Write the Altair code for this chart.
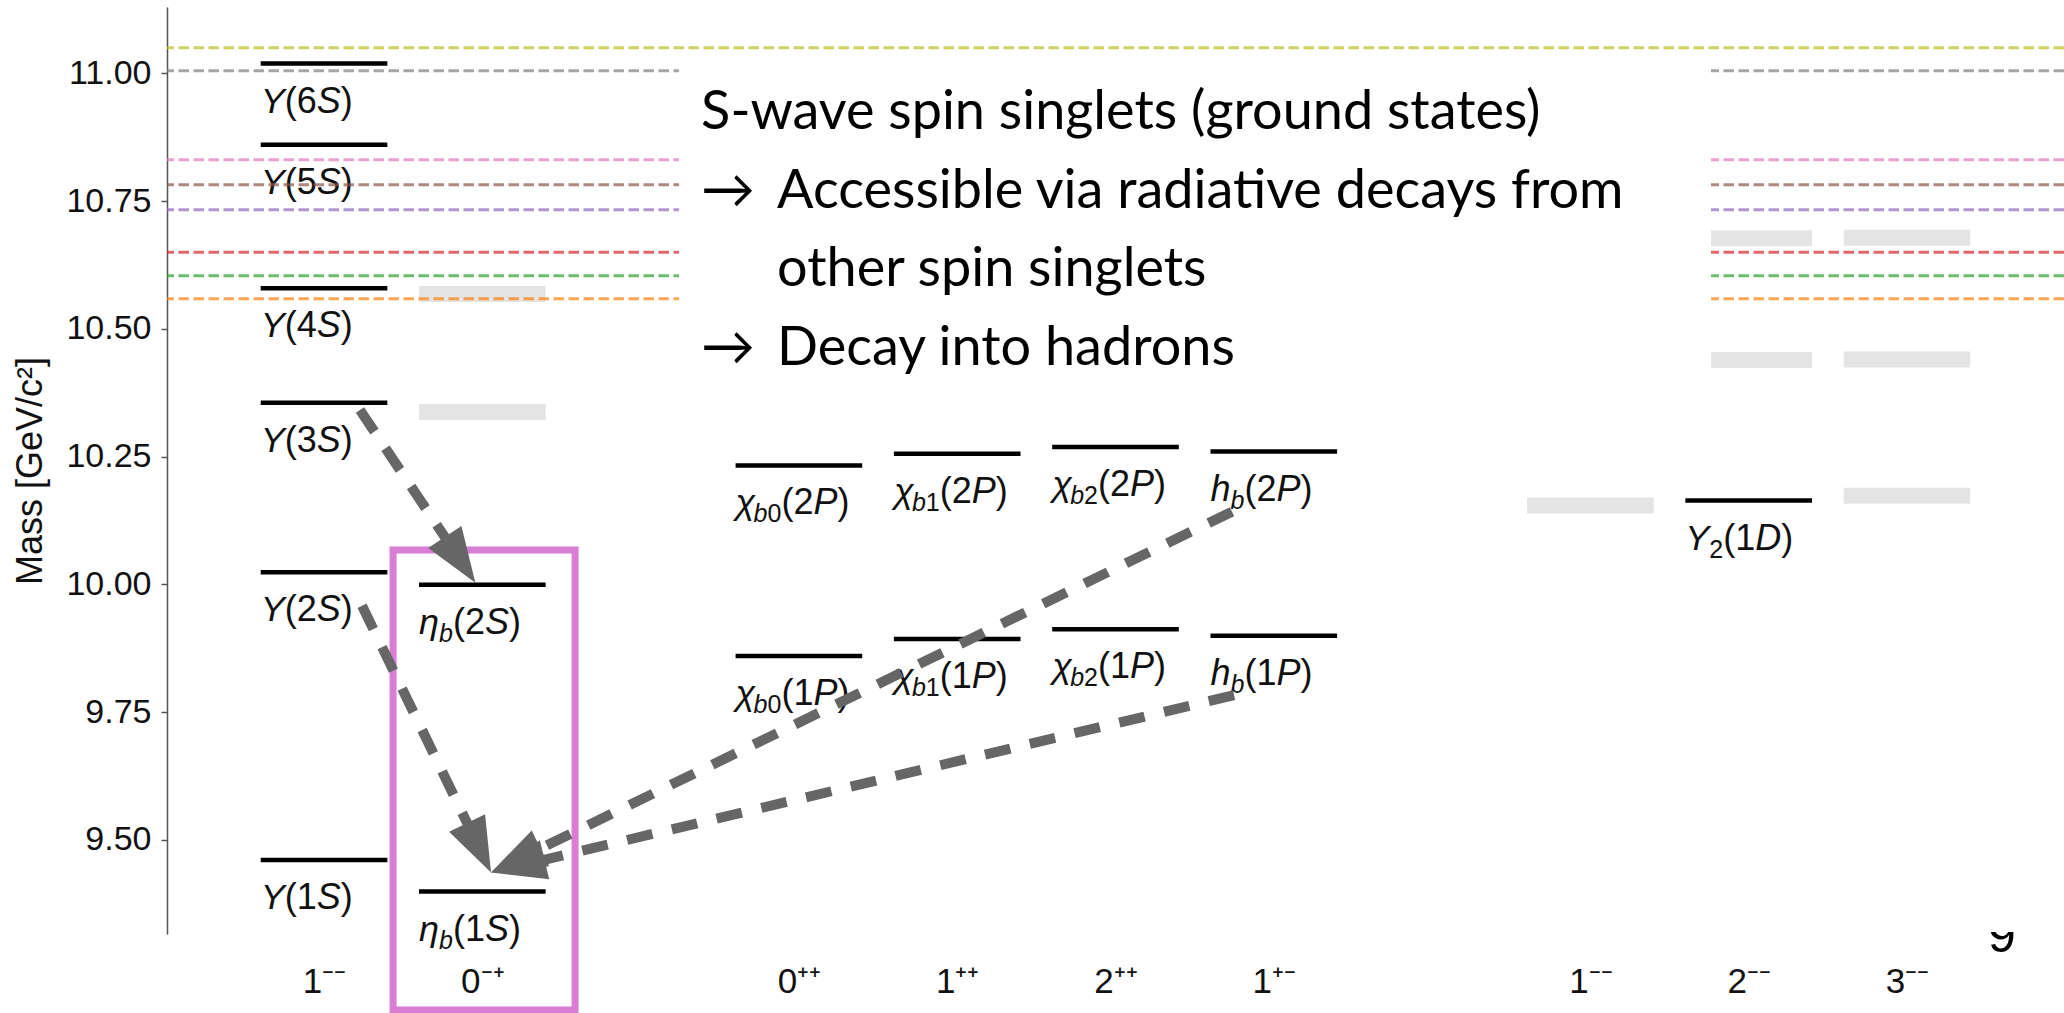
import math
import altair as alt
import pandas as pd

# ---------------------------------------------------------------- layout
PLOT_W, PLOT_H = 1897, 927
X_DOMAIN = [-0.992, 10.992]          # column index (J^PC slots)
Y_DOMAIN = [9.3156, 11.1297]         # mass in GeV/c^2
PX_PER_COL = PLOT_W / (X_DOMAIN[1] - X_DOMAIN[0])
PX_PER_GEV = PLOT_H / (Y_DOMAIN[1] - Y_DOMAIN[0])
HALF_BAR = 0.4                       # half width of a level, in columns

AXIS_FONT = "Liberation Sans"
TEXT_FONT = "Lato"

# ---------------------------------------------------------------- data
# J^PC slots along the x axis (slots 2 and 7 are left empty)
column_labels = ["1⁻⁻", "0⁻⁺", "", "0⁺⁺", "1⁺⁺", "2⁺⁺", "1⁺⁻", "", "1⁻⁻", "2⁻⁻", "3⁻⁻"]
tick_columns = [0, 1, 3, 4, 5, 6, 8, 9, 10]
mass_ticks = [9.50, 9.75, 10.00, 10.25, 10.50, 10.75, 11.00]

# observed bottomonium levels
state_cols = [0, 0, 0, 0, 0, 0, 1, 1, 3, 3, 4, 4, 5, 5, 6, 6, 9]
state_masses = [9.4603, 10.0233, 10.3552, 10.5794, 10.860, 11.019,
                9.3987, 9.9990,
                9.8594, 10.2325, 9.8928, 10.2555, 9.9122, 10.2686,
                9.8993, 10.2598, 10.1637]
state_labels = [
    [("Υ", "it"), ("(1", "rm"), ("S", "it"), (")", "rm")],
    [("Υ", "it"), ("(2", "rm"), ("S", "it"), (")", "rm")],
    [("Υ", "it"), ("(3", "rm"), ("S", "it"), (")", "rm")],
    [("Υ", "it"), ("(4", "rm"), ("S", "it"), (")", "rm")],
    [("Υ", "it"), ("(5", "rm"), ("S", "it"), (")", "rm")],
    [("Υ", "it"), ("(6", "rm"), ("S", "it"), (")", "rm")],
    [("η", "it"), ("b", "sub-it"), ("(1", "rm"), ("S", "it"), (")", "rm")],
    [("η", "it"), ("b", "sub-it"), ("(2", "rm"), ("S", "it"), (")", "rm")],
    [("χ", "it"), ("b", "sub-it"), ("0", "sub-rm"), ("(1", "rm"), ("P", "it"), (")", "rm")],
    [("χ", "it"), ("b", "sub-it"), ("0", "sub-rm"), ("(2", "rm"), ("P", "it"), (")", "rm")],
    [("χ", "it"), ("b", "sub-it"), ("1", "sub-rm"), ("(1", "rm"), ("P", "it"), (")", "rm")],
    [("χ", "it"), ("b", "sub-it"), ("1", "sub-rm"), ("(2", "rm"), ("P", "it"), (")", "rm")],
    [("χ", "it"), ("b", "sub-it"), ("2", "sub-rm"), ("(1", "rm"), ("P", "it"), (")", "rm")],
    [("χ", "it"), ("b", "sub-it"), ("2", "sub-rm"), ("(2", "rm"), ("P", "it"), (")", "rm")],
    [("h", "it"), ("b", "sub-it"), ("(1", "rm"), ("P", "it"), (")", "rm")],
    [("h", "it"), ("b", "sub-it"), ("(2", "rm"), ("P", "it"), (")", "rm")],
    [("Υ", "it"), ("2", "sub-rm"), ("(1", "rm"), ("D", "it"), (")", "rm")],
]

# predicted (not yet observed) levels
predicted_cols = [1, 1, 8, 9, 9, 10, 10, 10]
predicted_masses = [10.337, 10.568, 10.154, 10.439, 10.677, 10.173, 10.440, 10.678]

# open-bottom thresholds
threshold_masses = [10.559, 10.604, 10.650, 10.733, 10.782, 10.831, 11.005, 11.050]
threshold_colors = ["#ff7f0e", "#2ca02c", "#d62728", "#9467bd", "#8c564b",
                    "#e377c2", "#7f7f7f", "#bcbd22"]

# radiative transitions (start -> tip)
arrow_start_cols = [0.227, 0.240, 5.736, 5.749]
arrow_start_masses = [10.341, 9.958, 10.142, 9.783]
arrow_tip_cols = [0.956, 1.055, 1.055, 1.055]
arrow_tip_masses = [10.003, 9.436, 9.436, 9.436]

# explanatory text block
note_box_cols = [2.243, 8.762]
note_box_masses = [10.380, 11.030]
note_arrow_cols = [2.382, 2.382]
note_arrow_masses = [10.737, 10.430]
note_lines = ["S-wave spin singlets (ground states)",
              "Accessible via radiative decays from",
              "other spin singlets",
              "Decay into hadrons"]
note_cols = [2.382, 2.862, 2.862, 2.862]
note_masses = [10.890, 10.737, 10.5835, 10.430]

# highlighted J^PC = 0-+ column
highlight_cols = [0.436, 1.586]
highlight_masses = [9.167, 10.067]

# ---------------------------------------------------------------- helpers
x_axis = alt.Axis(values=tick_columns,
                  labelExpr="[" + ",".join("'%s'" % s for s in column_labels) + "][datum.value]",
                  ticks=False, domain=False, grid=False,
                  labelFont=AXIS_FONT, labelFontSize=35, labelColor="#111111",
                  labelPadding=30, labelAngle=0)
y_axis = alt.Axis(values=mass_ticks, format=".2f", grid=False,
                  tickSize=6, tickColor="#555555", tickWidth=1.5,
                  domainColor="#555555", domainWidth=1.5,
                  labelFont=AXIS_FONT, labelFontSize=34, labelColor="#111111",
                  labelPadding=10,
                  titleFont=AXIS_FONT, titleFontSize=36, titleFontWeight="normal",
                  titleColor="#111111", titlePadding=16)


def X(field):
    return alt.X(field, type="quantitative", title=None, axis=x_axis,
                 scale=alt.Scale(domain=X_DOMAIN, nice=False, zero=False))


def Y(field):
    return alt.Y(field, type="quantitative", title="Mass [GeV/c²]", axis=y_axis,
                 scale=alt.Scale(domain=Y_DOMAIN, nice=False, zero=False))


# glyph advance widths (em) used to lay out multi-part level labels
GLYPH_EM = {"Υ": 0.667, "η": 0.556, "χ": 0.50, "h": 0.556, "b": 0.556,
            "S": 0.667, "P": 0.667, "D": 0.722, "(": 0.333, ")": 0.333}
LABEL_SIZE, SUB_SIZE = 36, 25
LABEL_DROP, SUB_DROP = 49, 8


def text_width(s, size):
    return sum(GLYPH_EM.get(c, 0.556) for c in s) * size


label_rows = []
for col, mass, parts in zip(state_cols, state_masses, state_labels):
    offset = 0.0
    for text, style in parts:
        sub = style.startswith("sub")
        size = SUB_SIZE if sub else LABEL_SIZE
        drop = LABEL_DROP + (SUB_DROP if sub else 0)
        label_rows.append({
            "col": col - HALF_BAR + offset / PX_PER_COL,
            "mass": mass - drop / PX_PER_GEV,
            "text": text,
            "size": size,
            "italic": style.endswith("it"),
        })
        offset += text_width(text, size)
labels = pd.DataFrame(label_rows)

levels = pd.DataFrame({"col": state_cols, "mass": state_masses})
levels["x0"] = levels["col"] - HALF_BAR
levels["x1"] = levels["col"] + HALF_BAR

predicted = pd.DataFrame({"col": predicted_cols, "mass": predicted_masses})
predicted["x0"] = predicted["col"] - HALF_BAR
predicted["x1"] = predicted["col"] + HALF_BAR

thresholds = pd.DataFrame({"mass": threshold_masses, "color": threshold_colors})

HEAD_LEN, HEAD_W = 55.0, 40.0
shaft_rows, head_rows = [], []
for sc, sm, tc, tm in zip(arrow_start_cols, arrow_start_masses, arrow_tip_cols, arrow_tip_masses):
    dx = (tc - sc) * PX_PER_COL
    dy = -(tm - sm) * PX_PER_GEV
    length = math.hypot(dx, dy)
    ux, uy = dx / length, dy / length
    back = HEAD_LEN * 0.95
    shaft_rows.append({"x0": sc, "y0": sm,
                       "x1": tc - ux * back / PX_PER_COL,
                       "y1": tm + uy * back / PX_PER_GEV})
    head_rows.append({"col": tc - ux * HEAD_LEN / 2 / PX_PER_COL,
                      "mass": tm + uy * HEAD_LEN / 2 / PX_PER_GEV,
                      "angle": math.degrees(math.atan2(ux, -uy)) % 360})
shafts = pd.DataFrame(shaft_rows)
heads = pd.DataFrame(head_rows)

note_box = pd.DataFrame({"x0": [note_box_cols[0]], "x1": [note_box_cols[1]],
                         "y0": [note_box_masses[0]], "y1": [note_box_masses[1]]})
note_arrows = pd.DataFrame({"col": note_arrow_cols, "mass": note_arrow_masses, "text": ["→", "→"]})
notes = pd.DataFrame({"col": note_cols, "mass": note_masses, "text": note_lines})
highlight = pd.DataFrame({"x0": [highlight_cols[0]], "x1": [highlight_cols[1]],
                          "y0": [highlight_masses[0]], "y1": [highlight_masses[1]]})

# ---------------------------------------------------------------- layers
predicted_layer = alt.Chart(predicted).mark_rule(
    color="#e4e4e4", strokeWidth=16, strokeCap="butt"
).encode(x=X("x0"), x2="x1", y=Y("mass"))

label_it = alt.Chart(labels).transform_filter("datum.italic").mark_text(
    font=AXIS_FONT, fontStyle="italic", align="left", baseline="alphabetic", color="#111111"
).encode(x=X("col"), y=Y("mass"), text="text:N", size=alt.Size("size:Q", scale=None))

label_rm = alt.Chart(labels).transform_filter("!datum.italic").mark_text(
    font=AXIS_FONT, align="left", baseline="alphabetic", color="#111111"
).encode(x=X("col"), y=Y("mass"), text="text:N", size=alt.Size("size:Q", scale=None))

level_layer = alt.Chart(levels).mark_rule(
    color="black", strokeWidth=4.5, strokeCap="butt"
).encode(x=X("x0"), x2="x1", y=Y("mass"))

threshold_layer = alt.Chart(thresholds).mark_rule(
    strokeWidth=3, strokeDash=[10.5, 4.5], opacity=0.7
).encode(y=Y("mass"), color=alt.Color("color:N", scale=None))

note_box_layer = alt.Chart(note_box).mark_rect(color="white").encode(
    x=X("x0"), x2="x1", y=Y("y0"), y2="y1")

note_arrow_layer = alt.Chart(note_arrows).mark_text(
    font=TEXT_FONT, fontSize=54, align="left", baseline="alphabetic", color="black"
).encode(x=X("col"), y=Y("mass"), text="text:N")

note_layer = alt.Chart(notes).mark_text(
    font=TEXT_FONT, fontSize=54, align="left", baseline="alphabetic", color="black"
).encode(x=X("col"), y=Y("mass"), text="text:N")

highlight_layer = alt.Chart(highlight).mark_rect(
    filled=False, stroke="#d97cd3", strokeWidth=7
).encode(x=X("x0"), x2="x1", y=Y("y0"), y2="y1")

shaft_layer = alt.Chart(shafts).mark_rule(
    color="#666666", strokeWidth=10, strokeDash=[26, 20], strokeCap="butt"
).encode(x=X("x0"), x2="x1", y=Y("y0"), y2="y1")

head_layer = alt.Chart(heads).mark_point(
    shape="M0,-1L-%.3f,1L%.3f,1Z" % (HEAD_W / HEAD_LEN, HEAD_W / HEAD_LEN),
    size=HEAD_LEN ** 2, filled=True, color="#666666", opacity=1, strokeWidth=0
).encode(x=X("col"), y=Y("mass"), angle=alt.Angle("angle:Q", scale=None))

# slide page number, partly hidden under the figure
page_number = alt.Chart(pd.DataFrame({"t": ["9"]})).mark_text(
    font=AXIS_FONT, fontSize=50, align="center", baseline="alphabetic", color="black"
).encode(x=alt.value(1835), y=alt.value(945), text="t:N")

page_cover = alt.Chart(pd.DataFrame({"t": [0]})).mark_rect(color="white").encode(
    x=alt.value(1810), x2=alt.value(1860), y=alt.value(880), y2=alt.value(925))

chart = alt.layer(
    predicted_layer, label_it, label_rm, level_layer, threshold_layer,
    note_box_layer, note_arrow_layer, note_layer, highlight_layer,
    shaft_layer, head_layer, page_number, page_cover,
).properties(
    width=PLOT_W, height=PLOT_H,
    autosize=alt.AutoSizeParams(type="none"),
    padding={"left": 167, "top": 7, "right": 0, "bottom": 79},
    background="white",
).configure_view(stroke=None)

chart.save("out.html", embed_options={"renderer": "svg", "actions": False})
